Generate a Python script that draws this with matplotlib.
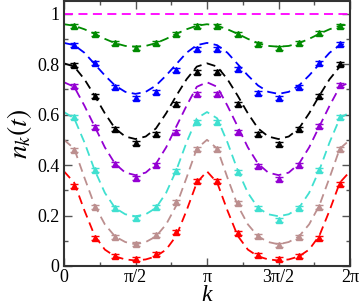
import numpy as np
import matplotlib
matplotlib.use("Agg")
import matplotlib.pyplot as plt
from matplotlib.ticker import MultipleLocator

plt.rcParams['font.family'] = ['Liberation Serif', 'DejaVu Serif']
plt.rcParams['mathtext.fontset'] = 'stix'

# theory curves, read at k = j*pi/14, j = 0..28
k_curve = np.arange(29) * np.pi / 14
curve_green = [0.958, 0.952, 0.938, 0.920, 0.900, 0.883, 0.872, 0.869, 0.872, 0.883, 0.900, 0.920, 0.938, 0.952,
               0.958, 0.952, 0.938, 0.920, 0.900, 0.883, 0.872, 0.869, 0.872, 0.883, 0.900, 0.920, 0.938, 0.952, 0.958]
curve_blue = [0.884, 0.875, 0.845, 0.800, 0.755, 0.715, 0.690, 0.682, 0.690, 0.715, 0.755, 0.800, 0.845, 0.875,
              0.884, 0.875, 0.845, 0.800, 0.755, 0.715, 0.690, 0.682, 0.690, 0.715, 0.755, 0.800, 0.845, 0.875, 0.884]
curve_black = [0.803, 0.790, 0.740, 0.675, 0.605, 0.545, 0.513, 0.503, 0.513, 0.545, 0.605, 0.675, 0.740, 0.790,
               0.803, 0.790, 0.740, 0.675, 0.605, 0.545, 0.513, 0.503, 0.513, 0.545, 0.605, 0.675, 0.740, 0.790, 0.803]
curve_violet = [0.728, 0.710, 0.635, 0.553, 0.470, 0.405, 0.370, 0.360, 0.370, 0.405, 0.470, 0.553, 0.635, 0.710,
                0.728, 0.710, 0.635, 0.553, 0.470, 0.405, 0.370, 0.360, 0.370, 0.405, 0.470, 0.553, 0.635, 0.710, 0.728]
curve_cyan = [0.610, 0.585, 0.490, 0.380, 0.290, 0.230, 0.205, 0.197, 0.205, 0.230, 0.290, 0.380, 0.490, 0.585,
              0.610, 0.585, 0.490, 0.380, 0.290, 0.230, 0.205, 0.197, 0.205, 0.230, 0.290, 0.380, 0.490, 0.585, 0.610]
curve_brown = [0.500, 0.465, 0.350, 0.240, 0.165, 0.117, 0.095, 0.086, 0.095, 0.117, 0.165, 0.240, 0.350, 0.465,
               0.500, 0.465, 0.350, 0.240, 0.165, 0.117, 0.095, 0.086, 0.095, 0.117, 0.165, 0.240, 0.350, 0.465, 0.500]
curve_red = [0.375, 0.330, 0.220, 0.120, 0.065, 0.038, 0.026, 0.022, 0.026, 0.038, 0.065, 0.120, 0.220, 0.330,
             0.375, 0.330, 0.220, 0.120, 0.065, 0.038, 0.026, 0.022, 0.026, 0.038, 0.065, 0.120, 0.220, 0.330, 0.375]
k_flat = [0, 2 * np.pi]
curve_magenta = [1.0, 1.0]

# measured points at k = (2n+1)*pi/14, n = 0..13
k_data = (2 * np.arange(14) + 1) * np.pi / 14
data_green = [0.950, 0.919, 0.882, 0.862, 0.882, 0.918, 0.950, 0.950, 0.919, 0.879, 0.862, 0.882, 0.922, 0.950]
data_blue = [0.875, 0.803, 0.710, 0.664, 0.688, 0.776, 0.859, 0.859, 0.779, 0.686, 0.667, 0.710, 0.803, 0.878]
data_black = [0.796, 0.675, 0.543, 0.486, 0.523, 0.642, 0.770, 0.770, 0.640, 0.523, 0.483, 0.543, 0.675, 0.799]
data_violet = [0.713, 0.552, 0.404, 0.347, 0.400, 0.532, 0.680, 0.680, 0.532, 0.396, 0.343, 0.400, 0.554, 0.717]
data_cyan = [0.589, 0.380, 0.228, 0.189, 0.232, 0.377, 0.569, 0.569, 0.373, 0.228, 0.182, 0.228, 0.380, 0.589]
data_brown = [0.459, 0.232, 0.114, 0.086, 0.123, 0.252, 0.462, 0.462, 0.251, 0.119, 0.083, 0.114, 0.235, 0.463]
data_red = [0.317, 0.110, 0.040, 0.028, 0.046, 0.136, 0.338, 0.338, 0.129, 0.044, 0.028, 0.040, 0.110, 0.324]
err = 0.008

colors = {'green': '#008b00', 'blue': '#0000ff', 'black': '#000000', 'violet': '#9400d3',
          'cyan': '#40e0d0', 'brown': '#bc8f8f', 'red': '#ff0000', 'magenta': '#ff00ff'}

fig = plt.figure(figsize=(3.61, 3.07), dpi=100)
ax = fig.add_axes([64 / 361, 41 / 307, 286 / 361, 265 / 307])

ax.plot(k_flat, curve_magenta, '--', color=colors['magenta'], lw=1.3, dashes=(5, 3))
series = [('green', curve_green, data_green), ('blue', curve_blue, data_blue),
          ('black', curve_black, data_black), ('violet', curve_violet, data_violet),
          ('cyan', curve_cyan, data_cyan), ('brown', curve_brown, data_brown),
          ('red', curve_red, data_red)]
for name, cv, dv in series:
    c = colors[name]
    ax.plot(k_curve, cv, '--', color=c, lw=1.3, dashes=(5, 3))
    ax.errorbar(k_data, dv, yerr=err, fmt='^', color=c, ms=5, mec=c,
                capsize=3, elinewidth=1, capthick=1)

ax.set_xlim(0, 2 * np.pi)
ax.set_ylim(0, 1.05)
ax.set_xticks([0, np.pi / 2, np.pi, 3 * np.pi / 2, 2 * np.pi])
ax.set_xticklabels(['0', 'π/2', 'π', '3π/2', '2π'])
ax.xaxis.set_minor_locator(MultipleLocator(np.pi / 4))
ax.set_yticks([0, 0.2, 0.4, 0.6, 0.8, 1.0])
ax.set_yticklabels(['0', '0.2', '0.4', '0.6', '0.8', '1'])
ax.yaxis.set_minor_locator(MultipleLocator(0.1))
ax.tick_params(which='both', direction='in', top=True, right=True, labelsize=13, color='#555555')
ax.tick_params(which='major', length=6, width=1)
ax.tick_params(which='minor', length=3, width=1)
ax.tick_params(axis='x', pad=2)
for s in ax.spines.values():
    s.set_linewidth(1.5)
    s.set_color('#333333')

fig.text(207 / 361, 6 / 307, 'k', fontsize=17, style='italic', ha='center', va='baseline')
ax.set_ylabel('$n_k(t)$', fontsize=20, labelpad=2)

fig.savefig('out.png', dpi=100)
